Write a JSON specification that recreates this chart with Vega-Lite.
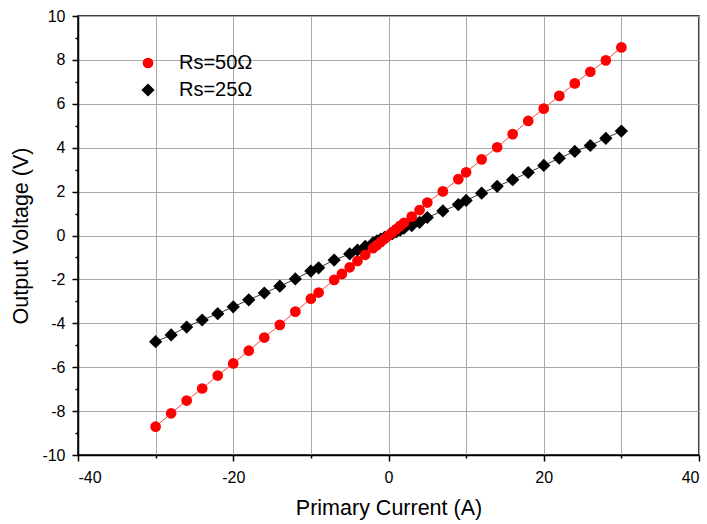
{
  "$schema": "https://vega.github.io/schema/vega-lite/v6.json",
  "width": 621,
  "height": 439,
  "autosize": {"type": "none"},
  "padding": {"left": 78, "top": 16, "right": 8, "bottom": 69},
  "background": "white",
  "config": {
    "font": "Liberation Sans",
    "view": {"stroke": "black", "strokeWidth": 1.5},
    "axis": {
      "domainColor": "black",
      "domainWidth": 1.5,
      "tickColor": "black",
      "tickWidth": 1.5,
      "labelColor": "black",
      "labelFont": "Liberation Sans",
      "labelFontSize": 16,
      "titleFont": "Liberation Sans",
      "titleFontSize": 21.5,
      "titleFontWeight": "normal",
      "titleColor": "black",
      "gridColor": "#a8a8a8",
      "gridWidth": 1
    },
    "legend": {
      "orient": "none",
      "legendX": 60,
      "legendY": 37,
      "padding": 0,
      "labelFont": "Liberation Sans",
      "labelFontSize": 20,
      "labelColor": "black",
      "labelOffset": 21,
      "rowPadding": 7,
      "symbolStrokeWidth": 0
    }
  },
  "data": {
    "values": [
      {"current": -30, "voltage": -4.84, "series": "Rs=25Ω"},
      {"current": -28, "voltage": -4.53, "series": "Rs=25Ω"},
      {"current": -26, "voltage": -4.17, "series": "Rs=25Ω"},
      {"current": -24, "voltage": -3.85, "series": "Rs=25Ω"},
      {"current": -22, "voltage": -3.56, "series": "Rs=25Ω"},
      {"current": -20, "voltage": -3.25, "series": "Rs=25Ω"},
      {"current": -18, "voltage": -2.93, "series": "Rs=25Ω"},
      {"current": -16, "voltage": -2.62, "series": "Rs=25Ω"},
      {"current": -14, "voltage": -2.31, "series": "Rs=25Ω"},
      {"current": -12, "voltage": -1.98, "series": "Rs=25Ω"},
      {"current": -10, "voltage": -1.62, "series": "Rs=25Ω"},
      {"current": -9, "voltage": -1.47, "series": "Rs=25Ω"},
      {"current": -7, "voltage": -1.12, "series": "Rs=25Ω"},
      {"current": -5, "voltage": -0.84, "series": "Rs=25Ω"},
      {"current": -4, "voltage": -0.67, "series": "Rs=25Ω"},
      {"current": -3, "voltage": -0.5, "series": "Rs=25Ω"},
      {"current": -2, "voltage": -0.34, "series": "Rs=25Ω"},
      {"current": -1.5, "voltage": -0.25, "series": "Rs=25Ω"},
      {"current": -1, "voltage": -0.17, "series": "Rs=25Ω"},
      {"current": -0.5, "voltage": -0.08, "series": "Rs=25Ω"},
      {"current": 0, "voltage": 0, "series": "Rs=25Ω"},
      {"current": 0.5, "voltage": 0.08, "series": "Rs=25Ω"},
      {"current": 1, "voltage": 0.17, "series": "Rs=25Ω"},
      {"current": 1.5, "voltage": 0.25, "series": "Rs=25Ω"},
      {"current": 2, "voltage": 0.33, "series": "Rs=25Ω"},
      {"current": 3, "voltage": 0.45, "series": "Rs=25Ω"},
      {"current": 4, "voltage": 0.6, "series": "Rs=25Ω"},
      {"current": 5, "voltage": 0.82, "series": "Rs=25Ω"},
      {"current": 7, "voltage": 1.12, "series": "Rs=25Ω"},
      {"current": 9, "voltage": 1.41, "series": "Rs=25Ω"},
      {"current": 10, "voltage": 1.6, "series": "Rs=25Ω"},
      {"current": 12, "voltage": 1.93, "series": "Rs=25Ω"},
      {"current": 14, "voltage": 2.24, "series": "Rs=25Ω"},
      {"current": 16, "voltage": 2.54, "series": "Rs=25Ω"},
      {"current": 18, "voltage": 2.87, "series": "Rs=25Ω"},
      {"current": 20, "voltage": 3.19, "series": "Rs=25Ω"},
      {"current": 22, "voltage": 3.52, "series": "Rs=25Ω"},
      {"current": 24, "voltage": 3.83, "series": "Rs=25Ω"},
      {"current": 26, "voltage": 4.1, "series": "Rs=25Ω"},
      {"current": 28, "voltage": 4.43, "series": "Rs=25Ω"},
      {"current": 30, "voltage": 4.76, "series": "Rs=25Ω"},
      {"current": -30, "voltage": -8.71, "series": "Rs=50Ω"},
      {"current": -28, "voltage": -8.1, "series": "Rs=50Ω"},
      {"current": -26, "voltage": -7.52, "series": "Rs=50Ω"},
      {"current": -24, "voltage": -6.97, "series": "Rs=50Ω"},
      {"current": -22, "voltage": -6.38, "series": "Rs=50Ω"},
      {"current": -20, "voltage": -5.83, "series": "Rs=50Ω"},
      {"current": -18, "voltage": -5.25, "series": "Rs=50Ω"},
      {"current": -16, "voltage": -4.65, "series": "Rs=50Ω"},
      {"current": -14, "voltage": -4.07, "series": "Rs=50Ω"},
      {"current": -12, "voltage": -3.47, "series": "Rs=50Ω"},
      {"current": -10, "voltage": -2.88, "series": "Rs=50Ω"},
      {"current": -9, "voltage": -2.6, "series": "Rs=50Ω"},
      {"current": -7, "voltage": -2.02, "series": "Rs=50Ω"},
      {"current": -6, "voltage": -1.75, "series": "Rs=50Ω"},
      {"current": -5, "voltage": -1.45, "series": "Rs=50Ω"},
      {"current": -4, "voltage": -1.16, "series": "Rs=50Ω"},
      {"current": -3, "voltage": -0.88, "series": "Rs=50Ω"},
      {"current": -2, "voltage": -0.58, "series": "Rs=50Ω"},
      {"current": -1.5, "voltage": -0.44, "series": "Rs=50Ω"},
      {"current": -1, "voltage": -0.29, "series": "Rs=50Ω"},
      {"current": -0.5, "voltage": -0.15, "series": "Rs=50Ω"},
      {"current": 0, "voltage": 0, "series": "Rs=50Ω"},
      {"current": 0.5, "voltage": 0.15, "series": "Rs=50Ω"},
      {"current": 1, "voltage": 0.29, "series": "Rs=50Ω"},
      {"current": 1.5, "voltage": 0.44, "series": "Rs=50Ω"},
      {"current": 2, "voltage": 0.58, "series": "Rs=50Ω"},
      {"current": 3, "voltage": 0.86, "series": "Rs=50Ω"},
      {"current": 4, "voltage": 1.16, "series": "Rs=50Ω"},
      {"current": 5, "voltage": 1.5, "series": "Rs=50Ω"},
      {"current": 7, "voltage": 2.01, "series": "Rs=50Ω"},
      {"current": 9, "voltage": 2.57, "series": "Rs=50Ω"},
      {"current": 10, "voltage": 2.88, "series": "Rs=50Ω"},
      {"current": 12, "voltage": 3.47, "series": "Rs=50Ω"},
      {"current": 14, "voltage": 4.02, "series": "Rs=50Ω"},
      {"current": 16, "voltage": 4.62, "series": "Rs=50Ω"},
      {"current": 18, "voltage": 5.22, "series": "Rs=50Ω"},
      {"current": 20, "voltage": 5.78, "series": "Rs=50Ω"},
      {"current": 22, "voltage": 6.36, "series": "Rs=50Ω"},
      {"current": 24, "voltage": 6.93, "series": "Rs=50Ω"},
      {"current": 26, "voltage": 7.46, "series": "Rs=50Ω"},
      {"current": 28, "voltage": 7.98, "series": "Rs=50Ω"},
      {"current": 30, "voltage": 8.57, "series": "Rs=50Ω"}
    ]
  },
  "encoding": {
    "x": {
      "field": "current",
      "type": "quantitative",
      "scale": {"domain": [-40, 40], "nice": false, "zero": false},
      "axis": {
        "title": "Primary Current (A)",
        "values": [-40, -30, -20, -10, 0, 10, 20, 30, 40],
        "labelExpr": "datum.value % 20 === 0 ? replace(datum.label, '\u2212', '-') : ''",
        "tickSize": {"condition": {"test": "datum.value % 20 === 0", "value": 6}, "value": 3},
        "labelPadding": 8,
        "titlePadding": 12,
        "grid": true
      }
    },
    "y": {
      "field": "voltage",
      "type": "quantitative",
      "scale": {"domain": [-10, 10], "nice": false, "zero": false},
      "axis": {
        "title": "Output Voltage (V)",
        "values": [-10, -9, -8, -7, -6, -5, -4, -3, -2, -1, 0, 1, 2, 3, 4, 5, 6, 7, 8, 9, 10],
        "labelExpr": "datum.value % 2 === 0 ? replace(datum.label, '\u2212', '-') : ''",
        "tickSize": {"condition": {"test": "datum.value % 2 === 0", "value": 6}, "value": 3},
        "gridOpacity": {"condition": {"test": "datum.value % 2 === 0", "value": 1}, "value": 0},
        "labelPadding": 7,
        "titlePadding": 9,
        "grid": true
      }
    }
  },
  "layer": [
    {
      "transform": [{"filter": "datum.series === 'Rs=25Ω'"}],
      "mark": {"type": "line", "strokeWidth": 1, "color": "#3a3a3a"},
      "encoding": {}
    },
    {
      "transform": [{"filter": "datum.series === 'Rs=50Ω'"}],
      "mark": {"type": "line", "strokeWidth": 1, "color": "#f24a4a"},
      "encoding": {}
    },
    {
      "mark": {"type": "point", "filled": true, "opacity": 1, "strokeWidth": 0},
      "encoding": {
        "fill": {
          "field": "series",
          "type": "nominal",
          "scale": {"domain": ["Rs=50Ω", "Rs=25Ω"], "range": ["#ff0000", "#000000"]},
          "legend": {"title": null}
        },
        "shape": {
          "field": "series",
          "type": "nominal",
          "scale": {"domain": ["Rs=50Ω", "Rs=25Ω"], "range": ["circle", "diamond"]},
          "legend": {"title": null}
        },
        "size": {
          "field": "series",
          "type": "nominal",
          "scale": {"domain": ["Rs=50Ω", "Rs=25Ω"], "range": [115, 175]},
          "legend": {"title": null}
        }
      }
    }
  ]
}
